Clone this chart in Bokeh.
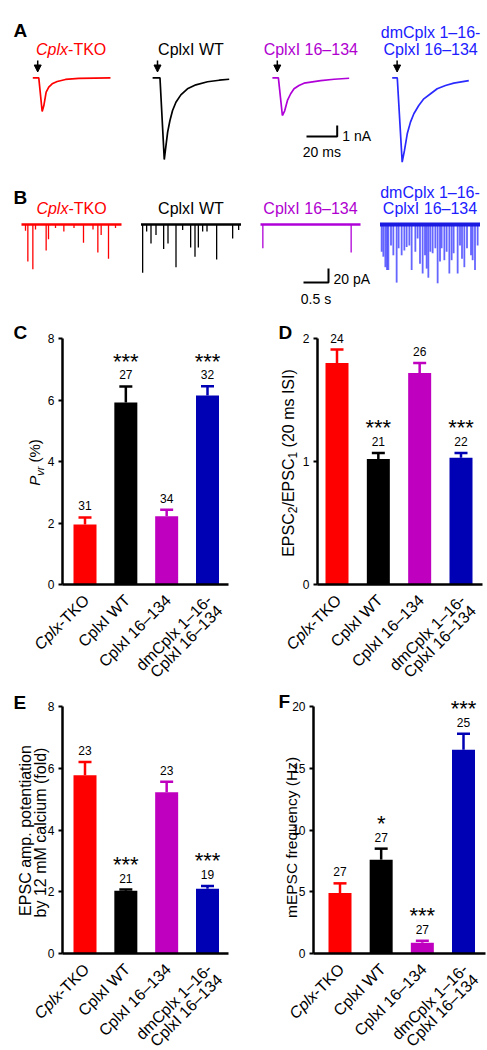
import math
from bokeh.plotting import figure
from bokeh.models import Range1d, Label, Arrow, NormalHead, FixedTicker
from bokeh.layouts import column, row
from bokeh.embed import file_html
from bokeh.resources import INLINE

FONT = "Liberation Sans"

# ---------------- data ----------------
groups = ["Cplx-TKO", "CplxI WT", "CplxI 16–134", "dmCplx 1–16-\nCplxI 16–134"]
italic_prefix = ["Cplx", "", "", ""]
bar_colors = ["#FF0000", "#000000", "#BF00BF", "#0000B4"]
trace_colors = ["#FF0000", "#000000", "#B000D8", "#2A2AFF"]
title_colors = ["#FF0000", "#000000", "#B000D0", "#2020FF"]

# Panel A: evoked EPSCs (ms from sweep start, nA)
epsc_t = [
    [0, 3.9, 6.1, 7.2, 8.7, 10.4, 12.6, 15.9, 21.3, 30.0, 50.6],
    [0, 4.8, 7.6, 8.7, 9.8, 11.3, 13.0, 15.2, 18.4, 22.7, 28.2, 35.8, 43.4, 49.9],
    [0, 3.9, 6.5, 8.0, 9.8, 11.9, 14.1, 17.3, 20.6, 31.5, 40.2, 50.0],
    [0, 3.3, 6.5, 8.0, 9.8, 11.9, 14.1, 17.3, 20.6, 25.0, 29.3, 34.7, 40.1, 49.9],
]
epsc_i = [
    [0, 0, -3.06, -2.52, -1.31, -0.85, -0.55, -0.34, -0.15, -0.06, 0],
    [0, 0, -7.43, -6.16, -4.94, -3.88, -2.97, -2.22, -1.55, -1.0, -0.64, -0.36, -0.22, -0.13],
    [0, 0, -3.43, -3.0, -2.06, -1.45, -1.0, -0.7, -0.49, -0.25, -0.13, -0.04],
    [0, 0, -7.67, -6.6, -5.09, -4.03, -3.27, -2.52, -1.91, -1.45, -1.0, -0.7, -0.49, -0.25],
]
stim_ms = 3.2
sweep_ms = 50.0

# Panel B: mEPSC events (s from sweep start, amplitude pA)
mini_t = [
    [0.08, 0.127, 0.227, 0.28, 0.493, 0.54, 0.68, 0.847, 1.05, 1.24, 1.43, 1.527, 1.593, 1.74, 1.88],
    [0.033, 0.113, 0.2, 0.3, 0.453, 0.54, 0.7, 0.833, 0.993, 1.08, 1.147, 1.233, 1.32, 1.513, 1.833, 1.953],
    [0.047, 1.813],
    [0.033, 0.067, 0.107, 0.14, 0.167, 0.22, 0.267, 0.333, 0.373, 0.433, 0.487, 0.533, 0.587, 0.633,
     0.707, 0.753, 0.8, 0.853, 0.9, 0.933, 0.967, 1.007, 1.053, 1.107, 1.153, 1.2, 1.233, 1.287, 1.333,
     1.387, 1.433, 1.473, 1.553, 1.6, 1.64, 1.687, 1.74, 1.82, 1.853, 1.9, 1.953],
]
mini_a = [
    [9, 53, 64, 7, 37, 21, 5, 10, 5, 26, 7, 40, 15, 49, 5],
    [69, 10, 27, 15, 35, 27, 61, 8, 33, 46, 33, 10, 10, 50, 20, 8],
    [34, 40],
    [39, 46, 61, 65, 65, 30, 44, 83, 34, 44, 37, 32, 30, 65, 39, 20, 56, 70, 44, 63, 76, 39, 41, 34,
     84, 53, 34, 51, 39, 70, 51, 41, 70, 30, 49, 61, 34, 44, 51, 65, 30],
]
sweep_s = 2.0

# Panel C: Pvr (%)
pvr_mean = [1.95, 5.92, 2.22, 6.15]
pvr_sem = [0.23, 0.52, 0.21, 0.30]
pvr_n = [31, 27, 34, 32]
pvr_sig = ["", "***", "", "***"]
pvr_ticks = [0, 2, 4, 6, 8]

# Panel D: paired-pulse ratio
ppr_mean = [1.80, 1.02, 1.72, 1.03]
ppr_sem = [0.11, 0.05, 0.08, 0.04]
ppr_n = [24, 21, 26, 22]
ppr_sig = ["", "***", "", "***"]
ppr_ticks = [0, 1, 2]

# Panel E: potentiation by 12 mM calcium (fold)
ca_mean = [5.77, 2.03, 5.22, 2.10]
ca_sem = [0.43, 0.04, 0.34, 0.09]
ca_n = [23, 21, 23, 19]
ca_sig = ["", "***", "", "***"]
ca_ticks = [0, 2, 4, 6, 8]

# Panel F: mEPSC frequency (Hz)
freq_mean = [4.9, 7.6, 0.87, 16.5]
freq_sem = [0.78, 0.89, 0.16, 1.3]
freq_n = [27, 27, 27, 25]
freq_sig = ["", "*", "***", "***"]
freq_ticks = [0, 5, 10, 15, 20]

# ---------------- text helpers ----------------
ARIAL = {' ': 278, '(': 333, ')': 333, '%': 889, '-': 333, '.': 278, '/': 278, '–': 556, '*': 389,
         'A': 667, 'B': 667, 'C': 722, 'D': 722, 'E': 667, 'F': 611, 'H': 722, 'I': 278, 'K': 667,
         'M': 833, 'O': 778, 'P': 667, 'S': 667, 'T': 611, 'W': 944,
         'a': 556, 'b': 556, 'c': 500, 'd': 556, 'e': 556, 'f': 278, 'i': 222, 'l': 222, 'm': 833,
         'n': 556, 'o': 556, 'p': 556, 'q': 556, 'r': 333, 's': 500, 't': 278, 'u': 556, 'v': 500,
         'x': 500, 'y': 500, 'z': 500}


def tw(s, size):
    return sum(ARIAL.get(ch, 556) for ch in s) * size / 1000.0


def rich(p, x, y, runs, angle=0.0, align="left", xo=0.0, yo=0.0, color="black",
         baseline="alphabetic"):
    """runs: (text, size, italic, down_shift)"""
    total = sum(tw(t, sz) for t, sz, it, sh in runs)
    ux, uy = math.cos(angle), math.sin(angle)
    dx, dy = math.sin(angle), -math.cos(angle)
    cum = {"left": 0.0, "center": -total / 2.0, "right": -total}[align]
    for t, sz, it, sh in runs:
        body = t.lstrip(" ")
        cum += tw(t[:len(t) - len(body)], sz)
        p.add_layout(Label(x=x, y=y, x_offset=xo + cum * ux + sh * dx,
                           y_offset=yo + cum * uy + sh * dy, text=body, angle=angle,
                           text_align="left", text_baseline=baseline, text_font=FONT,
                           text_font_size=f"{sz}px",
                           text_font_style="italic" if it else "normal", text_color=color))
        cum += tw(body, sz)


def name_runs(i, line, size):
    pre = italic_prefix[i]
    if pre and line.startswith(pre):
        return [(pre, size, True, 0), (line[len(pre):], size, False, 0)]
    return [(line, size, False, 0)]


def letter(p, x, y, ch):
    p.add_layout(Label(x=x, y=y, text=ch, text_font=FONT, text_color="black",
                       text_font_size="19px", text_font_style="bold", text_align="left",
                       text_baseline="alphabetic"))


def plain(p, x, y, text, size, align="left", xo=0, yo=0):
    p.add_layout(Label(x=x, y=y, x_offset=xo, y_offset=yo, text=text, text_font=FONT,
                       text_color="black", text_font_size=f"{size}px", text_align=align,
                       text_baseline="alphabetic"))


def bare_fig(w, h, xr, yr):
    p = figure(width=w, height=h, x_range=Range1d(*xr), y_range=Range1d(*yr),
               toolbar_location=None, output_backend="svg", min_border=0,
               x_axis_type=None, y_axis_type=None)
    p.grid.visible = False
    p.outline_line_color = None
    return p


# ---------------- Panel A ----------------
A_W, A_H = 487, 178
A_PX_MS, A_PX_NA, A_Y0 = 1.535, 11.0, 77.3
pa = bare_fig(A_W, A_H, (0, A_W / A_PX_MS), (-(A_H - A_Y0) / A_PX_NA, A_Y0 / A_PX_NA))
ax = lambda px: px / A_PX_MS
ay = lambda py: (A_Y0 - py) / A_PX_NA
a_off = [ax(32.3 + i * 119.8) for i in range(4)]
for i in range(4):
    pa.line([a_off[i] + t for t in epsc_t[i]], epsc_i[i], line_color=trace_colors[i],
            line_width=1.7)
    pa.add_layout(Arrow(x_start=a_off[i] + stim_ms, y_start=ay(60), x_end=a_off[i] + stim_ms,
                        y_end=ay(71.5), line_width=1.5, line_color="black",
                        end=NormalHead(size=7, fill_color="black", line_color="black")))
    lines = groups[i].split("\n")
    cx = a_off[i] + sweep_ms / 2
    rich(pa, cx, ay(48.8), name_runs(i, lines[-1], 16), align="center", color=title_colors[i])
    if len(lines) > 1:
        rich(pa, cx, ay(32.3), name_runs(i, lines[0], 16), align="center", color=title_colors[i])
letter(pa, ax(13), ay(30), "A")
# scale bar 20 ms / 1 nA
sb_x1, sb_y = ax(336.7), ay(136)
pa.line([sb_x1 - 20, sb_x1, sb_x1], [sb_y, sb_y, sb_y + 1], line_color="black", line_width=2)
plain(pa, sb_x1, sb_y, "1 nA", 14, xo=5, yo=0.5)
plain(pa, sb_x1 - 10, sb_y, "20 ms", 14, align="center", yo=-15.7)

# ---------------- Panel B ----------------
B_W, B_H = 487, 132
B_PX_S, B_PX_PA, B_Y0 = 50.0, 0.7, 46.0
pb = bare_fig(B_W, B_H, (0, B_W / B_PX_S), (-(B_H - B_Y0) / B_PX_PA, B_Y0 / B_PX_PA))
bx = lambda px: px / B_PX_S
by = lambda py: (B_Y0 - py) / B_PX_PA
b_off = [bx(21 + i * 119.5) for i in range(4)]
for i in range(4):
    xs = [b_off[i] + t for t in mini_t[i]]
    ys = [-a for a in mini_a[i]]
    if i == 3:
        pb.segment(x0=xs, y0=[0] * len(xs), x1=xs, y1=ys, line_color=trace_colors[i],
                   line_width=1.8, line_alpha=0.72)
        pb.line([b_off[i], b_off[i] + sweep_s], [0, 0], line_color="#1A1AE0", line_width=4)
    else:
        pb.segment(x0=xs, y0=[0] * len(xs), x1=xs, y1=ys, line_color=trace_colors[i],
                   line_width=1.3)
        pb.line([b_off[i], b_off[i] + sweep_s], [0, 0], line_color=trace_colors[i],
                line_width=2.4)
    lines = groups[i].split("\n")
    cx = b_off[i] + sweep_s / 2
    rich(pb, cx, by(30.3), name_runs(i, lines[-1], 16), align="center", color=title_colors[i])
    if len(lines) > 1:
        rich(pb, cx, by(14), name_runs(i, lines[0], 16), align="center", color=title_colors[i])
letter(pb, bx(13), by(19), "B")
sbb_x1, sbb_y = bx(328), by(104)
pb.line([sbb_x1 - 0.5, sbb_x1, sbb_x1], [sbb_y, sbb_y, sbb_y + 20], line_color="black",
        line_width=2)
plain(pb, sbb_x1, sbb_y, "20 pA", 14, xo=5, yo=3.7)
plain(pb, sbb_x1 - 0.25, sbb_y, "0.5 s", 14, align="center", yo=-16.3)


# ---------------- bar panels ----------------
def bar_panel(w, h, frame, centers, means, sems, ns, sig, ticks, ch, letter_px, ylabel):
    fl, fr, ft, fb = frame           # axis box in canvas px
    s = (centers[-1] - centers[0]) / (len(centers) - 1)   # px per category
    ymax = ticks[-1]
    ypp = ymax / (fb - ft)           # data per px
    X = lambda px: 1 + (px - centers[0]) / s
    Y = lambda py: (fb - py) * ypp
    xs = [i + 1 for i in range(len(means))]
    p = figure(width=w, height=h, x_range=Range1d(X(0), X(w)), y_range=Range1d(Y(h), Y(0)),
               toolbar_location=None, output_backend="svg", min_border=0)
    p.grid.visible = False
    p.outline_line_color = None
    yax = p.yaxis[0]
    yax.fixed_location = X(fl)
    yax.bounds = (0, ymax)
    yax.ticker = FixedTicker(ticks=ticks)
    yax.axis_line_width = 2.5
    yax.axis_line_color = "black"
    yax.major_tick_line_width = 2
    yax.major_tick_line_color = "black"
    yax.major_tick_out = 4
    yax.major_tick_in = 0
    yax.minor_tick_out = 0
    yax.minor_tick_in = 0
    yax.major_label_standoff = 4
    yax.major_label_text_font = FONT
    yax.major_label_text_font_size = "12px"
    yax.major_label_text_color = "black"
    xax = p.xaxis[0]
    xax.fixed_location = 0
    xax.bounds = (X(fl), X(fr))
    xax.ticker = FixedTicker(ticks=[])
    xax.axis_line_width = 2.5
    xax.axis_line_color = "black"
    xax.major_tick_out = 0
    xax.major_tick_in = 0
    xax.minor_tick_out = 0
    xax.minor_tick_in = 0
    xax.major_label_text_font_size = "0px"

    tops = [m + e for m, e in zip(means, sems)]
    hw = 6.5 / s
    p.segment(x0=xs, y0=means, x1=xs, y1=tops, line_color=bar_colors, line_width=2.5)
    p.segment(x0=[x - hw for x in xs], y0=tops, x1=[x + hw for x in xs], y1=tops,
              line_color=bar_colors, line_width=2.5)
    p.vbar(x=xs, top=means, width=23 / s, bottom=0, fill_color=bar_colors, line_color=None)

    for x, t, n, st in zip(xs, tops, ns, sig):
        plain(p, x, t, str(n), 12, align="center", yo=11.5)
        if st:
            plain(p, x, t, st, 22, align="center", yo=25)
    # category labels (rotated 45 degrees)
    for i, x in enumerate(xs):
        for k, line in enumerate(groups[i].split("\n")):
            rich(p, x, 0, name_runs(i, line, 16), angle=math.pi / 4, align="right",
                 xo=1.5 + k * 10.6, yo=-13 - k * 10.6, baseline="middle")
    letter(p, X(letter_px[0]), Y(letter_px[1]), ch)
    for runs, base_x, cy in ylabel:
        rich(p, X(base_x), Y(cy), runs, angle=math.pi / 2, align="center")
    return p


pc = bar_panel(243, 372, (62, 228, 28, 274), [84.5, 125, 165.5, 207], pvr_mean, pvr_sem,
               pvr_n, pvr_sig, pvr_ticks, "C", (13, 22),
               [([("P", 15, True, 0), ("vr", 11, True, 5), (" (%)", 15, False, 0)], 34, 152)])
pd = bar_panel(244, 372, (74, 239, 28, 274), [93.5, 135, 176.5, 217.5], ppr_mean, ppr_sem,
               ppr_n, ppr_sig, ppr_ticks, "D", (35, 22),
               [([("EPSC", 16, False, 0), ("2", 12, False, 4), ("/EPSC", 16, False, 0),
                  ("1", 12, False, 4), (" (20 ms ISI)", 16, False, 0)], 45.2, 152.5)])
pe = bar_panel(243, 368, (62, 228, 24, 271), [84.5, 125, 165.5, 207], ca_mean, ca_sem,
               ca_n, ca_sig, ca_ticks, "E", (13, 20),
               [([("EPSC amp. potentiation", 16, False, 0)], 24.8, 148),
                ([("by 12 mM calcium (fold)", 16, False, 0)], 39.8, 150)])
pf = bar_panel(244, 368, (70, 242, 24, 271), [96.5, 138, 179, 220], freq_mean, freq_sem,
               freq_n, freq_sig, freq_ticks, "F", (35, 19),
               [([("mEPSC frequency (Hz)", 15.5, False, 0)], 48.1, 155)])

layout = column(pa, pb, row(pc, pd), row(pe, pf))
open("out.html", "w").write(file_html(layout, INLINE))
